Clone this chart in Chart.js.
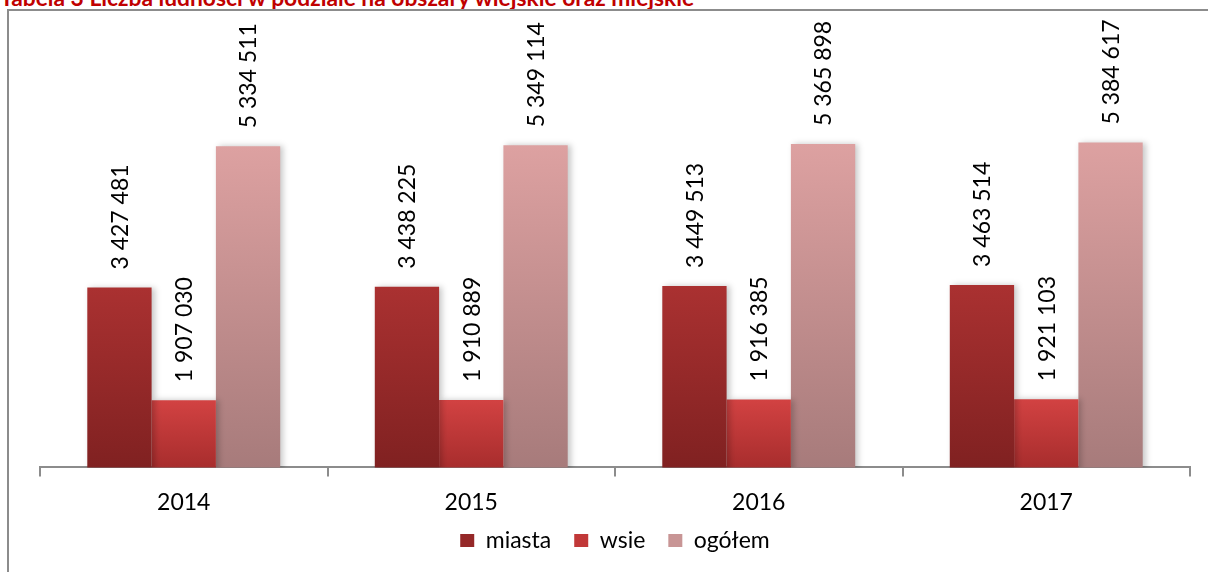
<!DOCTYPE html>
<html>
<head>
<meta charset="utf-8">
<script src="https://cdn.jsdelivr.net/npm/chart.js@4.4.1/dist/chart.umd.min.js"></script>
<style>
  html, body { margin: 0; padding: 0; background: #fff; overflow: hidden; }
  #wrap { position: relative; width: 1208px; height: 572px; overflow: hidden; }
  #title {
    position: absolute; left: 0; top: -17px; white-space: nowrap;
    font: bold 22.8px Lato, sans-serif; line-height: 28px; color: #c00000;
  }
  #frame {
    position: absolute; left: 7px; top: 9px; width: 1300px; height: 700px;
    border: 2px solid #8c8c8c; box-sizing: border-box;
  }
  #chart { position: absolute; left: 0; top: 0; }
</style>
</head>
<body>
<div id="wrap">
  <div id="title">Tabela 3 Liczba ludności w podziale na obszary wiejskie oraz miejskie</div>
  <div id="frame"></div>
  <canvas id="chart" width="1208" height="572"></canvas>
</div>
<script>
// --- data ---
const years = ['2014', '2015', '2016', '2017'];
const miasta = [3427481, 3438225, 3449513, 3463514];
const wsie = [1907030, 1910889, 1916385, 1921103];
const ogolem = [5334511, 5349114, 5365898, 5384617];

const FONT = 'Lato, "Open Sans", sans-serif';

// top / bottom colours of the bar gradients, plus a flat one for the legend
const shades = {
  miasta: ['#aa3131', '#802121', '#952828'],
  wsie: ['#d24242', '#a82d2d', '#c13838'],
  ogolem: ['#dda1a1', '#a77b7b', '#c89595']
};

function gradientFill(key) {
  return (ctx) => {
    const chart = ctx.chart;
    const area = chart.chartArea;
    const y = chart.scales.y;
    if (!area || !y || ctx.raw === undefined) return shades[key][2];
    const top = y.getPixelForValue(ctx.raw);
    const g = chart.ctx.createLinearGradient(0, top, 0, area.bottom);
    g.addColorStop(0, shades[key][0]);
    g.addColorStop(1, shades[key][1]);
    return g;
  };
}

function fmt(v) {
  return String(v).replace(/\B(?=(\d{3})+(?!\d))/g, ' ');
}

// vertical value labels above each bar
const barLabels = {
  id: 'barLabels',
  afterDatasetsDraw(chart) {
    const ctx = chart.ctx;
    ctx.save();
    ctx.font = '23px ' + FONT;
    ctx.fillStyle = '#000';
    ctx.textAlign = 'left';
    ctx.textBaseline = 'middle';
    chart.data.datasets.forEach((ds, di) => {
      chart.getDatasetMeta(di).data.forEach((bar, i) => {
        ctx.save();
        ctx.translate(bar.x + 1, bar.y - 18);
        ctx.rotate(-Math.PI / 2);
        ctx.fillText(fmt(ds.data[i]), 0, 0);
        ctx.restore();
      });
    });
    ctx.restore();
  }
};

// soft shadow to the right of the bars
const barShadow = {
  id: 'barShadow',
  beforeDatasetDraw(chart) {
    const ctx = chart.ctx;
    ctx.save();
    ctx.shadowColor = 'rgba(0,0,0,0.22)';
    ctx.shadowBlur = 6;
    ctx.shadowOffsetX = 3;
    ctx.shadowOffsetY = 0;
  },
  afterDatasetDraw(chart) {
    chart.ctx.restore();
  }
};

// x axis was squeezed in afterFit so the legend sits lower; give its labels room again
const axisRoom = {
  id: 'axisRoom',
  afterLayout(chart) {
    chart.scales.x.bottom += 22;
  }
};

new Chart(document.getElementById('chart'), {
  type: 'bar',
  data: {
    labels: years,
    datasets: [
      { label: 'miasta', data: miasta, backgroundColor: gradientFill('miasta') },
      { label: 'wsie', data: wsie, backgroundColor: gradientFill('wsie') },
      { label: 'ogółem', data: ogolem, backgroundColor: gradientFill('ogolem') }
    ]
  },
  options: {
    responsive: false,
    animation: false,
    layout: { padding: { top: 97, left: 40, right: 18, bottom: 10 } },
    datasets: {
      bar: { barPercentage: 1, categoryPercentage: 0.671, borderWidth: 0 }
    },
    scales: {
      y: { display: false, min: 1000000, max: 6000000 },
      x: {
        offset: true,
        afterFit(scale) { scale.height -= 22; },
        grid: {
          offset: true,
          drawOnChartArea: false,
          drawTicks: true,
          tickLength: 9,
          color: '#8c8c8c',
          lineWidth: 2
        },
        border: { display: true, color: '#8c8c8c', width: 2 },
        ticks: { color: '#000', padding: 12, font: { family: FONT, size: 23 } }
      }
    },
    plugins: {
      tooltip: { enabled: false },
      legend: {
        position: 'bottom',
        labels: {
          color: '#000',
          boxWidth: 14,
          boxHeight: 13,
          padding: 23,
          font: { family: FONT, size: 23 },
          generateLabels(chart) {
            const keys = ['miasta', 'wsie', 'ogolem'];
            return Chart.defaults.plugins.legend.labels.generateLabels(chart).map((l, i) => {
              l.fillStyle = shades[keys[i]][2];
              l.strokeStyle = shades[keys[i]][2];
              l.lineWidth = 0;
              return l;
            });
          }
        }
      }
    }
  },
  plugins: [barShadow, barLabels, axisRoom]
});
</script>
</body>
</html>
